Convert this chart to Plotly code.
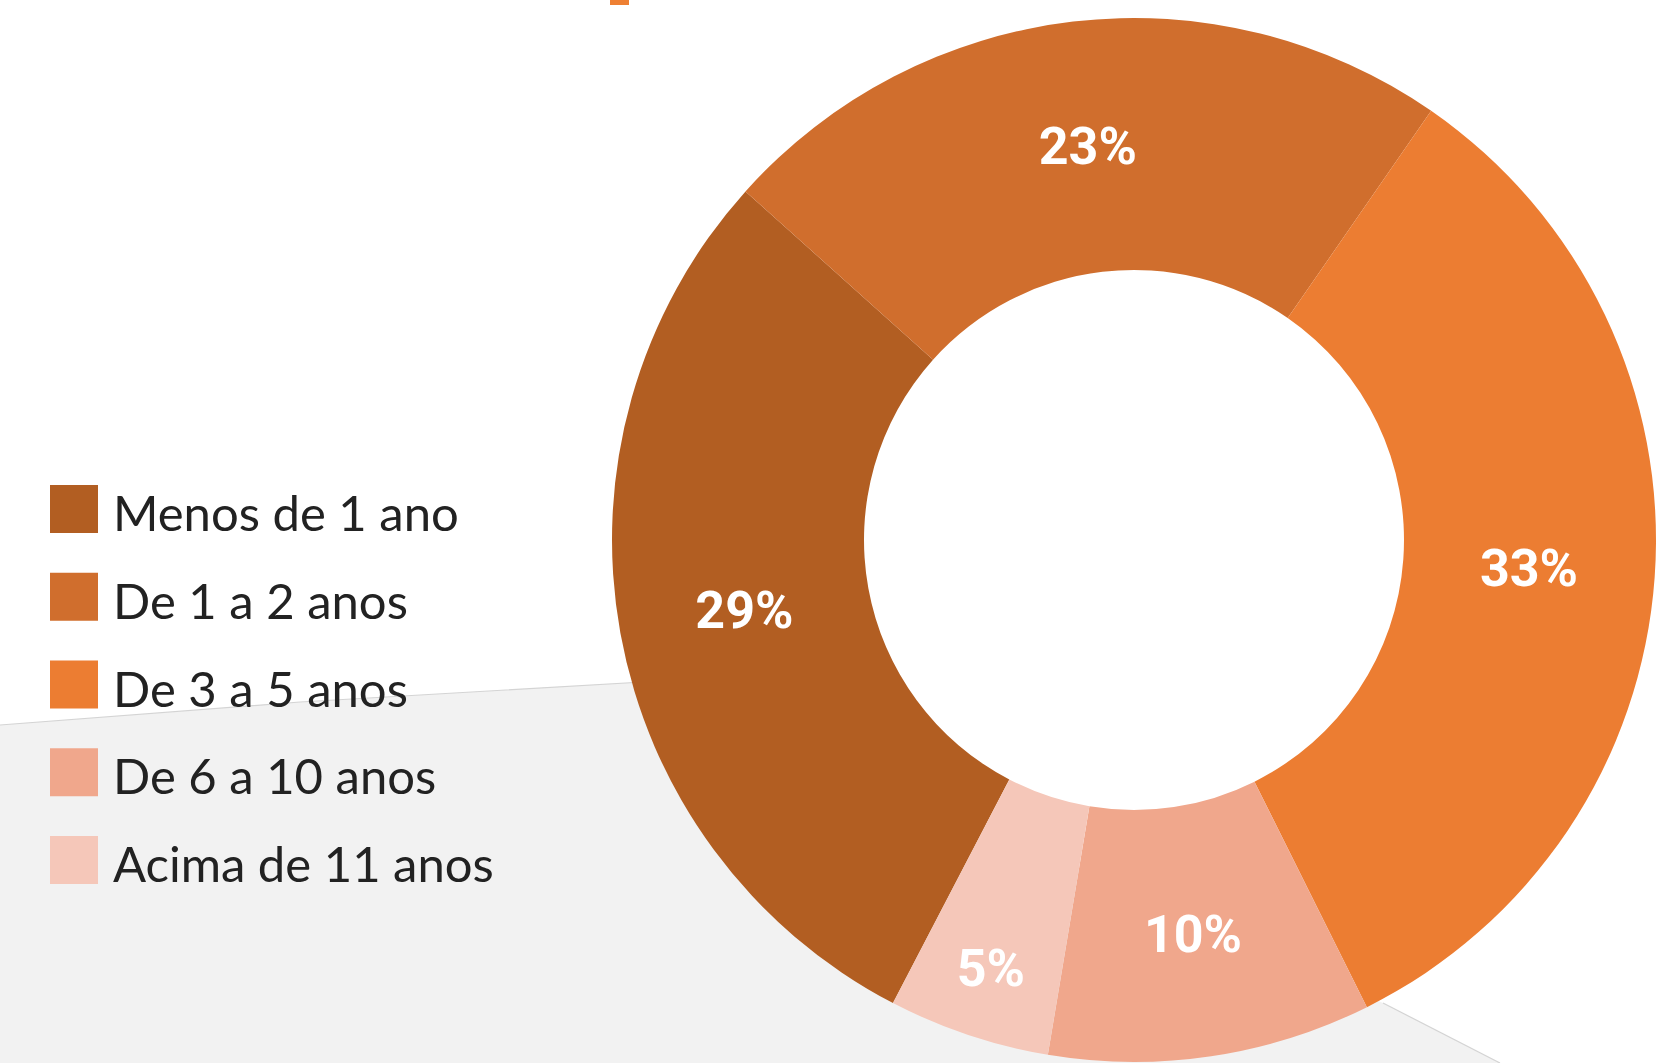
import plotly.graph_objects as go

# ---- data ----
categories = ["Menos de 1 ano", "De 1 a 2 anos", "De 3 a 5 anos", "De 6 a 10 anos", "Acima de 11 anos"]
values = [29, 23, 33, 10, 5]
colors = ["#B25E22", "#D06E2D", "#EC7D32", "#F0A78C", "#F5C7B9"]

W, H = 1656, 1063

def px(x):
    return x / W

def py(y):
    return 1 - y / H

# donut geometry (pixels)
cx, cy, R = 1134, 540, 522
hole_r = 270

fig = go.Figure()
fig.add_trace(go.Pie(
    labels=categories,
    values=values,
    sort=False,
    direction="clockwise",
    rotation=207.5,
    hole=hole_r / R,
    marker=dict(colors=colors, line=dict(width=0)),
    textinfo="percent",
    textposition="inside",
    insidetextorientation="horizontal",
    insidetextfont=dict(family="Roboto", size=52, color="white", weight="bold"),
    hoverinfo="skip",
    showlegend=False,
    domain=dict(x=[px(cx - R), px(cx + R)], y=[py(cy + R), py(cy - R)]),
))

shapes = []
# light gray lower region
pts = [(0, 725), (300, 702), (660, 681), (1383, 1003), (1500, 1063), (0, 1063)]
path = "M " + " L ".join(f"{px(a):.5f},{py(b):.5f}" for a, b in pts) + " Z"
shapes.append(dict(type="path", xref="paper", yref="paper", layer="below",
                   path=path, fillcolor="#F2F2F2", line=dict(width=0)))
# faint boundary lines
edge1 = [(0, 725), (300, 702), (660, 681)]
edge2 = [(1383, 1003), (1500, 1063)]
for e in (edge1, edge2):
    p = "M " + " L ".join(f"{px(a):.5f},{py(b):.5f}" for a, b in e)
    shapes.append(dict(type="path", xref="paper", yref="paper", layer="below",
                       path=p, line=dict(color="#D4D4D4", width=1.2)))
# small orange mark at top
shapes.append(dict(type="rect", xref="paper", yref="paper", layer="below",
                   x0=px(610), x1=px(629), y0=py(5), y1=1,
                   fillcolor="#EE8033", line=dict(width=0)))

# custom legend
annotations = []
row0, step, sq = 509, 87.75, 48
for i, (cat, col) in enumerate(zip(categories, colors)):
    yc = row0 + step * i
    shapes.append(dict(type="rect", xref="paper", yref="paper",
                       x0=px(50), x1=px(50 + sq), y0=py(yc + sq / 2), y1=py(yc - sq / 2),
                       fillcolor=col, line=dict(width=0)))
    annotations.append(dict(xref="paper", yref="paper", x=px(111), y=py(yc + 3),
                            xanchor="left", yanchor="middle", showarrow=False,
                            text=cat, font=dict(family="Lato", size=49, color="#222222")))

fig.update_layout(
    width=W, height=H,
    margin=dict(l=0, r=0, t=0, b=0),
    paper_bgcolor="white",
    plot_bgcolor="white",
    shapes=shapes,
    annotations=annotations,
)

fig.write_html(
    "out.html",
    config={"displayModeBar": False},
    post_script="document.body.style.margin='0';document.body.style.overflow='hidden';",
)
